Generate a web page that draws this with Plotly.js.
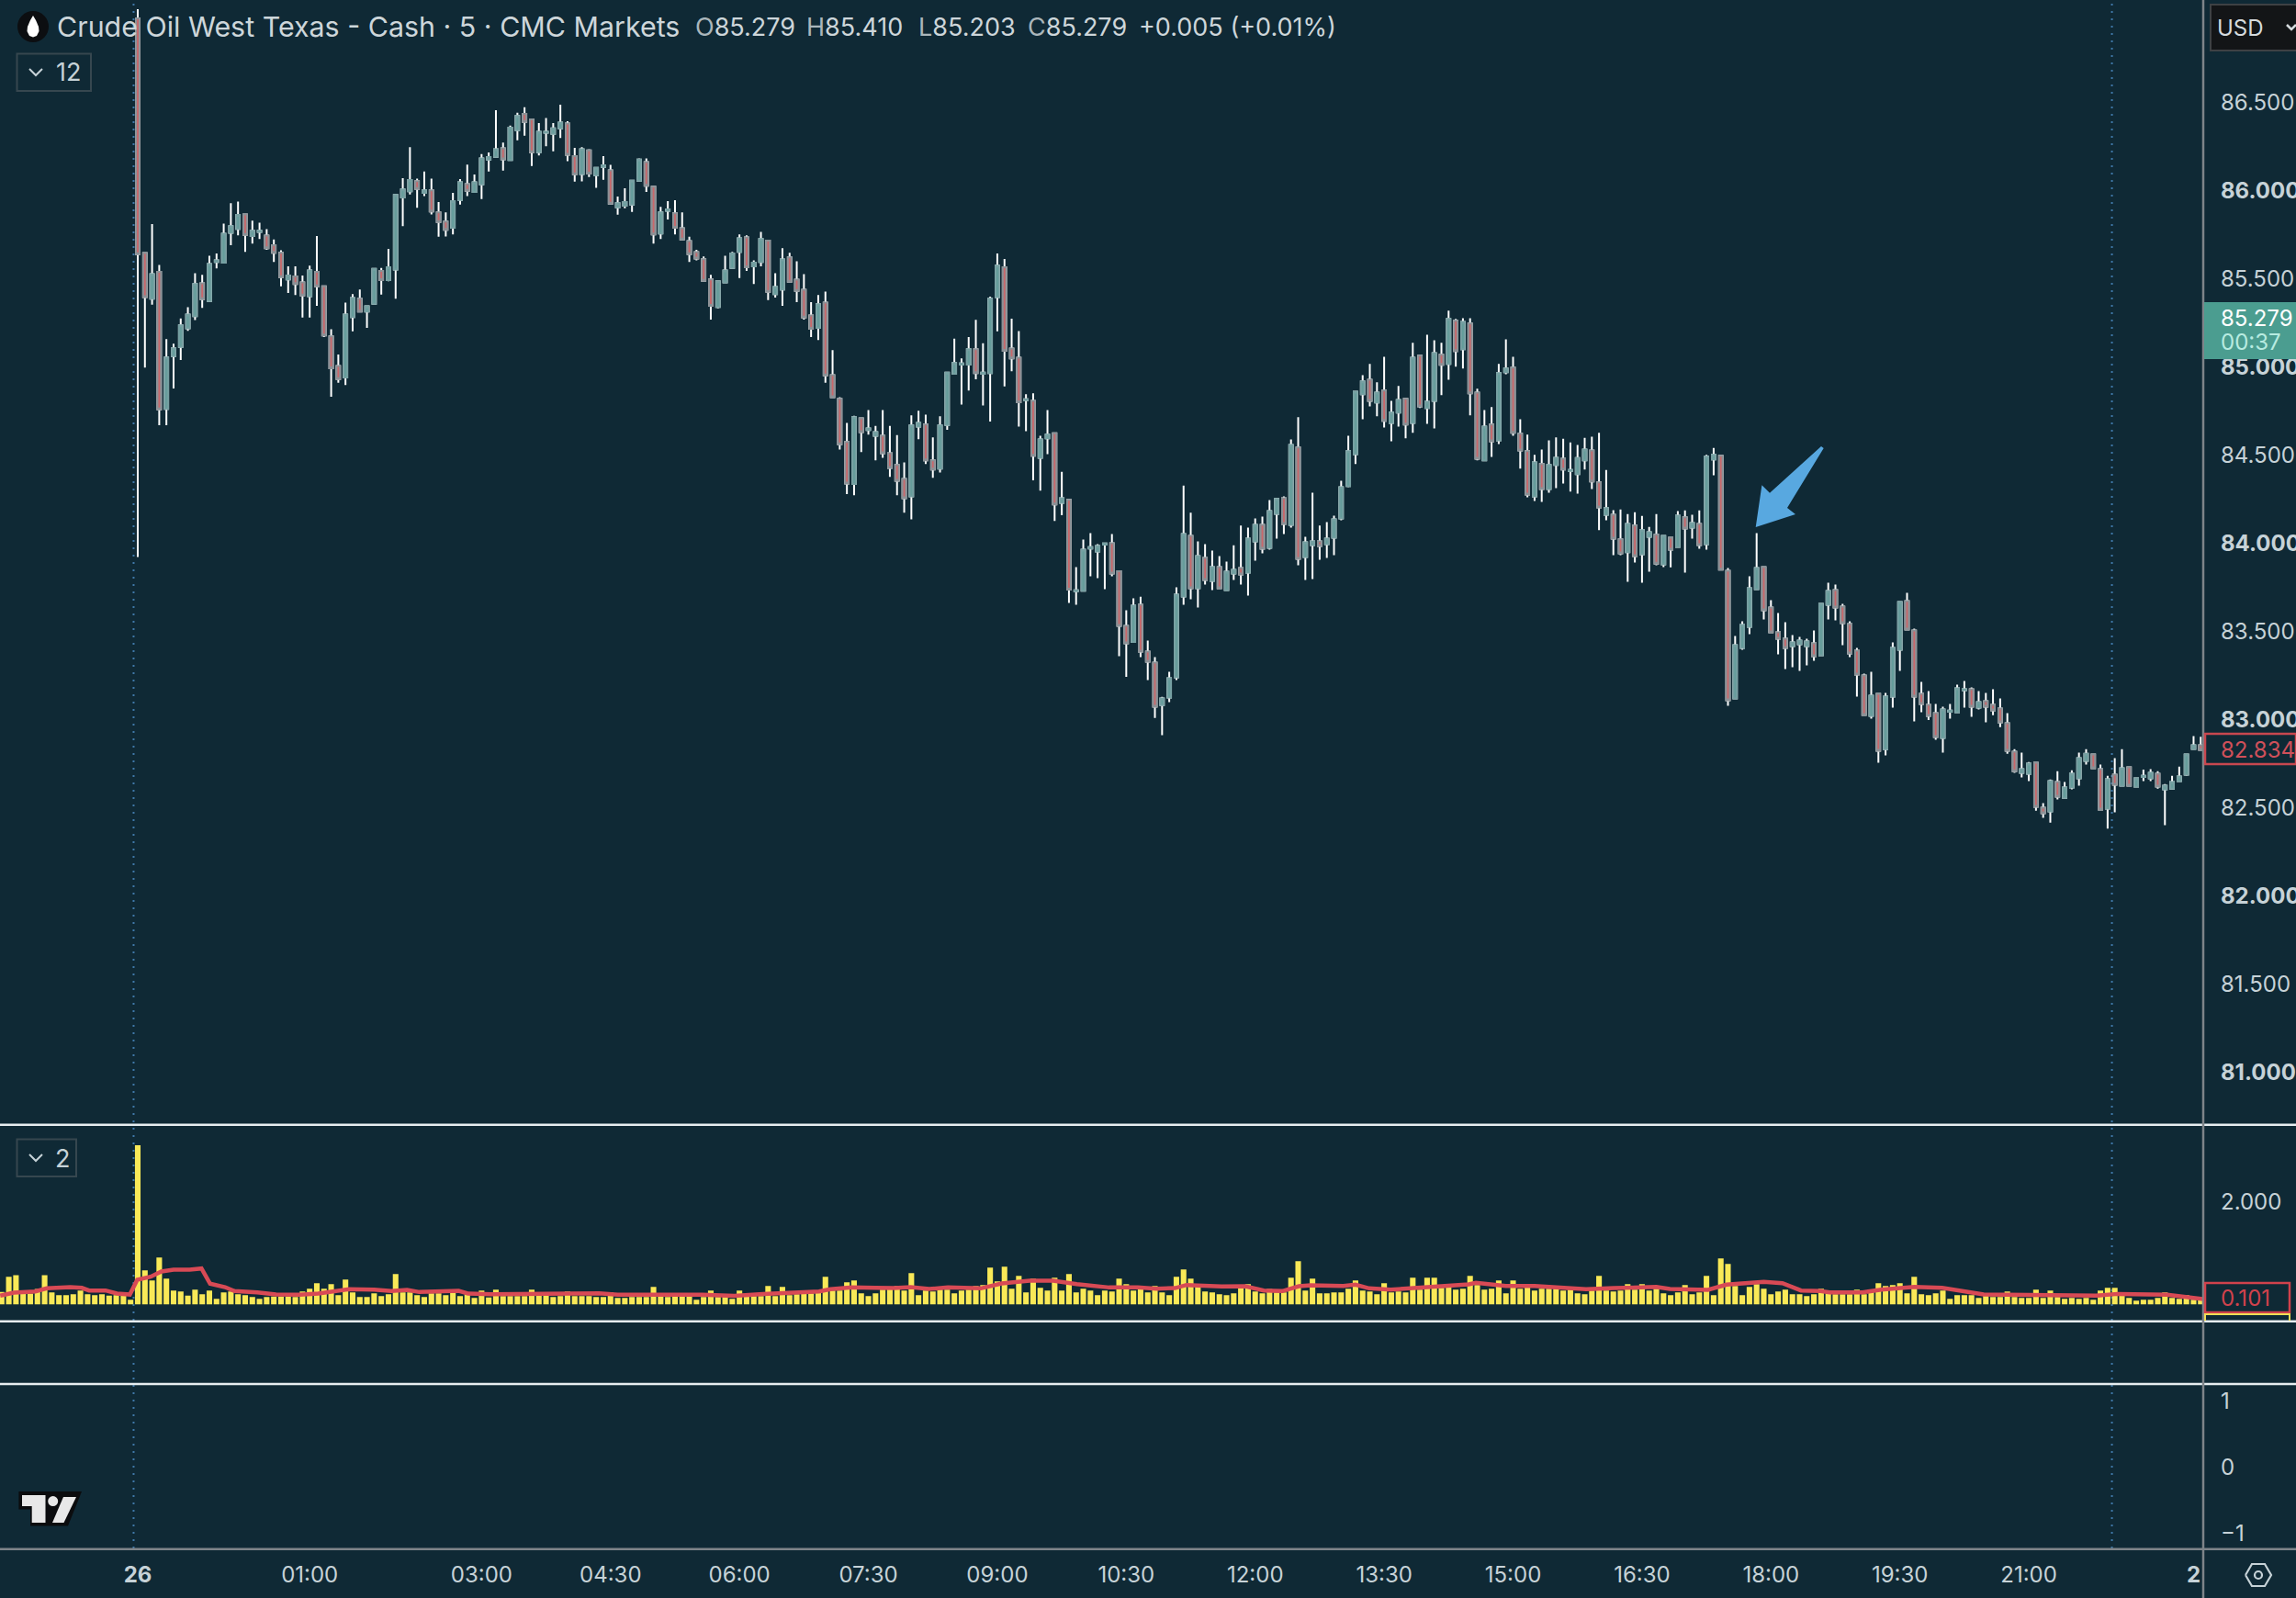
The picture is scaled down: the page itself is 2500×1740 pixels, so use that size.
<!DOCTYPE html>
<html>
<head>
<meta charset="utf-8">
<script src="https://cdn.plot.ly/plotly-3.0.1.min.js"></script>
<style>html,body{margin:0;padding:0;background:#0f2935}#chart{width:2500px;height:1740px}</style>
</head>
<body>
<div id="chart"></div>
<script>
const opens = [86.975,85.644,85.385,85.537,84.760,85.059,85.111,85.217,85.286,85.472,85.372,85.594,85.590,85.759,85.781,85.863,85.740,85.764,85.743,85.688,
85.646,85.495,85.511,85.477,85.399,85.537,85.455,85.172,85.003,84.939,85.281,85.385,85.312,85.356,85.542,85.490,85.550,85.959,85.995,86.052,
85.985,85.999,85.875,85.823,85.788,85.945,86.035,85.990,86.033,86.174,86.190,86.238,86.171,86.341,86.433,86.402,86.216,86.327,86.320,86.351,
86.379,86.193,86.092,86.226,86.085,86.132,86.113,85.903,85.912,85.919,86.054,86.160,86.021,85.755,85.884,85.870,85.785,85.712,85.649,85.609,
85.495,85.338,85.477,85.559,85.651,85.733,85.568,85.594,85.714,85.411,85.437,85.620,85.493,85.436,85.290,85.220,85.363,84.951,84.817,84.572,
84.334,84.707,84.640,84.608,84.608,84.509,84.442,84.363,84.264,84.660,84.671,84.468,84.421,84.669,84.959,85.011,85.011,85.098,84.959,84.963,
85.394,85.563,85.103,85.051,84.810,84.806,84.483,84.593,84.622,84.228,84.244,83.726,83.729,83.969,83.952,83.990,83.999,83.840,83.530,83.438,
83.649,83.384,83.321,83.081,83.123,83.238,83.696,84.040,83.743,83.915,83.785,83.863,83.733,83.827,83.858,83.832,84.009,84.103,83.972,84.165,
84.254,84.103,84.541,83.920,83.988,84.009,83.993,84.030,84.139,84.322,84.504,84.843,84.926,84.796,84.864,84.681,84.739,84.817,84.681,85.062,
84.765,84.806,85.067,85.015,85.260,85.098,85.244,84.853,84.468,84.671,84.582,84.968,84.994,84.619,84.520,84.264,84.447,84.306,84.442,84.478,
84.409,84.390,84.468,84.525,84.343,84.160,84.160,84.020,83.947,84.098,83.936,84.035,84.046,83.879,84.030,83.978,84.145,84.087,84.108,83.993,
84.473,84.494,83.842,83.118,83.405,83.524,83.738,83.863,83.634,83.493,83.457,83.415,83.426,83.415,83.431,83.363,83.650,83.733,83.639,83.540,
83.389,83.248,83.019,83.144,82.831,83.128,83.394,83.670,83.504,83.144,83.082,83.035,82.894,83.042,83.040,83.165,83.170,83.066,83.102,83.082,
83.061,82.977,82.816,82.696,82.691,82.753,82.498,82.477,82.644,82.555,82.613,82.665,82.764,82.800,82.717,82.493,82.686,82.623,82.727,82.618,
82.673,82.665,82.691,82.602,82.607,82.649,82.686,82.832,82.852];

const highs = [87.027,85.650,85.808,85.577,85.156,85.130,85.273,85.337,85.530,85.521,85.629,85.641,85.811,85.927,85.936,85.868,85.828,85.816,85.780,85.721,
85.660,85.568,85.568,85.516,85.573,85.740,85.455,85.212,85.068,85.363,85.411,85.437,85.342,85.554,85.559,85.667,85.973,86.068,86.245,86.066,
86.106,86.066,85.933,85.875,85.985,86.063,86.146,86.089,86.205,86.214,86.454,86.271,86.367,86.440,86.471,86.405,86.381,86.410,86.381,86.485,
86.391,86.240,86.245,86.233,86.132,86.193,86.144,85.964,86.011,86.054,86.181,86.181,86.021,85.906,85.938,85.943,85.875,85.736,85.663,85.625,
85.521,85.484,85.629,85.651,85.750,85.745,85.603,85.764,85.714,85.530,85.672,85.646,85.597,85.524,85.365,85.406,85.425,85.094,84.826,84.681,
84.721,84.707,84.754,84.664,84.754,84.664,84.612,84.457,84.723,84.749,84.728,84.598,84.718,84.966,85.159,85.046,85.168,85.265,85.133,85.397,
85.641,85.610,85.272,85.202,84.843,84.848,84.608,84.754,84.622,84.403,84.244,83.863,84.019,84.056,83.993,83.997,84.051,83.840,83.618,83.686,
83.695,83.446,83.352,83.127,83.269,83.748,84.325,84.171,84.009,83.993,83.957,83.926,83.894,83.986,84.098,84.087,84.139,84.150,84.243,84.249,
84.264,84.587,84.713,84.035,84.285,84.098,84.118,84.155,84.353,84.608,84.858,84.952,85.015,84.911,85.056,84.806,84.890,84.817,85.135,85.062,
85.181,85.150,85.135,85.317,85.270,85.275,85.275,84.874,84.754,84.770,85.015,85.155,85.056,84.702,84.614,84.499,84.530,84.582,84.598,84.591,
84.570,84.556,84.596,84.603,84.624,84.414,84.186,84.190,84.164,84.174,84.153,84.091,84.164,84.040,84.030,84.181,84.185,84.160,84.185,84.499,
84.539,84.494,83.858,83.472,83.556,83.811,84.056,83.863,83.676,83.603,83.551,83.478,83.467,83.457,83.504,83.655,83.775,83.764,83.655,83.556,
83.405,83.259,83.269,83.149,83.149,83.436,83.670,83.717,83.514,83.212,83.160,83.087,83.071,83.087,83.196,83.217,83.181,83.160,83.149,83.170,
83.118,83.035,82.831,82.811,82.758,82.753,82.524,82.659,82.706,82.644,82.711,82.811,82.831,82.800,82.743,82.680,82.779,82.831,82.732,82.665,
82.715,82.717,82.706,82.633,82.680,82.732,82.800,82.904,82.901];

const lows = [83.920,84.995,85.351,84.668,84.668,84.876,85.038,85.203,85.264,85.333,85.372,85.557,85.590,85.689,85.745,85.651,85.698,85.724,85.662,85.594,
85.455,85.417,85.406,85.278,85.278,85.345,85.168,84.829,84.908,84.896,85.200,85.311,85.220,85.356,85.408,85.484,85.385,85.797,85.976,85.901,
85.967,85.863,85.736,85.738,85.750,85.919,85.967,85.985,85.950,86.106,86.190,86.112,86.167,86.283,86.310,86.138,86.198,86.250,86.221,86.297,
86.165,86.049,86.051,86.075,86.014,86.059,85.924,85.861,85.898,85.877,86.054,85.990,85.698,85.724,85.834,85.750,85.721,85.594,85.603,85.486,
85.267,85.330,85.472,85.559,85.502,85.542,85.469,85.568,85.377,85.391,85.345,85.476,85.365,85.267,85.168,85.151,84.908,84.826,84.530,84.277,
84.271,84.515,84.614,84.468,84.483,84.374,84.270,84.171,84.134,84.588,84.447,84.369,84.400,84.641,84.959,84.785,84.864,84.928,84.780,84.688,
85.200,84.887,84.973,84.660,84.634,84.355,84.296,84.504,84.125,84.157,83.660,83.650,83.729,83.811,83.801,83.738,83.811,83.358,83.240,83.438,
83.352,83.222,83.008,82.910,83.097,83.222,83.650,83.681,83.634,83.764,83.733,83.738,83.728,83.790,83.764,83.702,83.900,83.941,83.962,84.025,
84.051,84.087,83.874,83.790,83.795,83.905,83.915,83.931,84.129,84.316,84.447,84.702,84.775,84.718,84.655,84.577,84.660,84.593,84.624,84.765,
84.676,84.650,84.838,84.926,85.000,84.989,84.723,84.468,84.468,84.488,84.561,84.957,84.608,84.421,84.259,84.238,84.233,84.285,84.311,84.337,
84.291,84.280,84.416,84.306,84.072,84.129,83.931,83.931,83.780,83.889,83.775,83.837,83.874,83.863,83.861,83.973,83.832,84.025,83.967,83.962,
84.384,83.848,83.076,83.113,83.394,83.483,83.738,83.566,83.493,83.368,83.285,83.295,83.274,83.306,83.332,83.358,83.566,83.561,83.420,83.353,
83.128,83.024,83.003,82.753,82.795,83.066,83.274,83.509,82.988,83.040,82.996,82.884,82.811,83.003,83.035,83.066,83.014,83.056,82.983,83.023,
82.956,82.805,82.696,82.670,82.649,82.482,82.441,82.414,82.545,82.550,82.602,82.623,82.743,82.717,82.488,82.380,82.472,82.623,82.618,82.618,
82.649,82.649,82.607,82.399,82.602,82.644,82.680,82.826,82.823];

const closes = [85.637,85.394,85.524,84.757,85.052,85.104,85.234,85.295,85.469,85.382,85.582,85.602,85.754,85.797,85.860,85.747,85.771,85.771,85.672,85.646,
85.507,85.516,85.469,85.403,85.545,85.455,85.177,84.991,84.929,85.295,85.389,85.312,85.342,85.554,85.490,85.563,85.973,86.005,86.058,86.007,
85.999,85.880,85.820,85.776,85.938,86.045,85.997,86.045,86.181,86.188,86.233,86.176,86.355,86.422,86.388,86.216,86.332,86.332,86.351,86.384,
86.202,86.091,86.233,86.094,86.127,86.141,85.924,85.927,85.933,86.054,86.174,86.025,85.750,85.875,85.891,85.788,85.721,85.637,85.613,85.486,
85.345,85.484,85.545,85.641,85.728,85.564,85.589,85.724,85.424,85.451,85.608,85.481,85.429,85.278,85.215,85.354,84.950,84.826,84.560,84.337,
84.713,84.629,84.650,84.629,84.509,84.426,84.353,84.254,84.666,84.681,84.468,84.416,84.666,84.966,85.020,85.018,85.098,84.963,84.966,85.385,
85.573,85.090,85.046,84.798,84.815,84.495,84.587,84.614,84.219,84.254,83.735,83.731,83.962,83.976,83.983,83.997,83.827,83.530,83.431,83.644,
83.384,83.326,83.071,83.118,83.233,83.707,84.051,83.743,83.926,83.790,83.863,83.743,83.837,83.847,83.821,84.025,84.103,83.967,84.181,84.249,
84.108,84.556,83.910,84.004,84.009,83.983,84.025,84.134,84.316,84.520,84.858,84.916,84.806,84.853,84.692,84.739,84.811,84.671,85.051,84.775,
84.801,85.077,85.010,85.270,85.088,85.254,84.848,84.478,84.660,84.577,84.963,84.989,84.624,84.525,84.275,84.457,84.306,84.442,84.483,84.416,
84.414,84.482,84.530,84.348,84.202,84.197,84.025,83.941,84.108,83.926,84.072,84.061,83.882,84.040,83.962,84.155,84.082,84.113,83.988,84.489,
84.499,83.848,83.108,83.420,83.535,83.743,83.858,83.618,83.493,83.457,83.405,83.436,83.446,83.441,83.358,83.655,83.728,83.634,83.545,83.373,
83.254,83.024,83.134,82.821,83.128,83.405,83.665,83.509,83.128,83.087,83.019,82.899,83.056,83.049,83.175,83.170,83.071,83.097,83.071,83.050,
82.983,82.821,82.706,82.717,82.748,82.503,82.467,82.649,82.561,82.613,82.691,82.779,82.805,82.722,82.488,82.660,82.628,82.722,82.623,82.665,
82.680,82.696,82.618,82.623,82.644,82.675,82.800,82.852,82.826];

const volumes = [.238,.536,.565,.208,.208,.298,.565,.232,.179,.179,.196,.268,.196,.179,.196,.167,.179,.167,.089,
3.09,.661,.464,.911,.5,.268,.25,.167,.286,.196,.268,.107,.232,.25,.196,.179,.143,.107,.143,.149,.149,.149,.143,.25,.304,.411,.304,.393,.179,.482,.232,.143,.143,.214,.161,.196,.589,.232,.232,.179,.143,.214,.214,.179,.232,.161,.196,.125,.268,.131,.286,.161,.161,.161,.161,.286,.179,.179,.143,.161,.25,.161,.161,.161,.143,.143,.232,.125,.125,.143,.143,.143,.339,.161,.143,.161,.161,.161,.089,.143,.268,.143,.143,.107,
.268,.161,.161,.161,.357,.161,.339,.179,.196,.214,.214,.232,.536,.268,.268,.429,.464,.214,.161,.214,.286,.304,.357,.268,.607,.179,.268,.25,.286,.286,.214,.268,.286,.357,.375,.714,.446,.732,.304,.554,.232,.5,.321,.268,.518,.268,.589,.232,.304,.268,.179,.268,.25,.5,.393,.268,.357,.232,.357,.232,.179,.536,.679,.5,.357,.25,.232,.196,.179,.214,.357,.393,.25,.214,.298,.232,.232,.518,.839,.268,.5,.214,.214,.232,.232,.304,.464,.268,.25,.196,.411,.232,.25,.232,.518,.286,.518,.518,.321,.339,.286,.304,.554,
.375,.286,.304,.464,.214,.464,.304,.339,.268,.304,.304,.304,.268,.286,.214,.196,.268,.554,.268,.25,.268,.393,.286,.393,.268,.304,.214,.179,.232,.375,.196,.232,.554,.179,.893,.786,.357,.179,.339,.393,.304,.196,.25,.286,.196,.196,.161,.196,.304,.214,.196,.196,.196,.286,.196,.286,.411,.357,.375,.411,.214,.536,.196,.179,.214,.268,.107,.179,.179,.179,.125,.196,.143,.143,.25,.143,.125,.125,.286,.125,.268,.143,.107,.125,.107,.125,.089,.268,.321,.321,.196,.125,.071,.089,.089,.125,.232,.125,.107,.179,.089,.089];
const preOpenBars = 19;

const maBars = [-19.2,-17.3,-14.3,-12.7,-9.4,-7.8,-6.8,-4.5,-2.9,-1.1,-0.07,1.8,3.3,5,7.25,8.9,10.1,12.2,13.5,16.7,19.3,22.6,25.2,27.8,29.5,33,35.4,37.6,39.3,44.8,46.1,49.4,55,64.4,67,70.3,71.6,78.8,83.3,87.3,91.8,95.1,96.7,99.7,103,105.6,107.9,110.5,113.1,117.7,120.6,124.5,127.8,131.1,135.6,139.6,142.2,144.8,146.4,151.3,154.6,157.2,159.8,162.1,163.7,168.3,170,171.9,174.9,177.5,181.4,185.8,186.8,189.7,191,195,202.2,206.1,212,213.9,219.2,221.8,227,229.6,232.2,234.9,236.2,240.8,243.4,248,251.9,257.7,264.3,273.4,276.4,281.9,283.3,288.4];
const maValues = [.167,.226,.25,.31,.333,.32,.268,.268,.208,.19,.476,.536,.637,.673,.673,.696,.4,.333,.256,.232,.19,.185,.208,.256,.292,.286,.256,.28,.238,.262,.208,.196,.2,.214,.185,.179,.185,.185,.165,.2,.238,.25,.292,.327,.32,.315,.333,.298,.327,.31,.405,.458,.458,.393,.327,.327,.304,.315,.375,.345,.351,.268,.256,.351,.369,.357,.381,.31,.286,.31,.345,.387,.417,.387,.357,.357,.292,.315,.339,.298,.28,.381,.435,.41,.268,.256,.232,.232,.286,.339,.321,.19,.179,.167,.202,.179,.185,.101];

const priceTicks = [86.5,86,85.5,85,84.5,84,83.5,83,82.5,82,81.5,81];
const priceLabels = ["86.500","<b>86.000</b>","85.500","<b>85.000</b>","84.500","<b>84.000</b>","83.500","<b>83.000</b>","82.500","<b>82.000</b>","81.500","<b>81.000</b>"];
const timeTicks = [0,24,48,66,84,102,120,138,156,174,192,210,228,246,264,287];
const timeLabels = ["<b>26</b>","01:00","03:00","04:30","06:00","07:30","09:00","10:30","12:00","13:30","15:00","16:30","18:00","19:30","21:00","<b>2</b>"];
const sessionBreaks = [-0.58,275.6];

const W = 2500, H = 1740;
const px = x => x / W, py = y => 1 - y / H;
const pathOf = pts => pts.map((p, k) => (k ? 'L' : 'M') + px(p[0]) + ',' + py(p[1])).join(' ') + ' Z';
const openPath = pts => pts.map((p, k) => (k ? 'L' : 'M') + px(p[0]) + ',' + py(p[1])).join(' ');
const rect = (x0, y0, x1, y1, fill, line, lw) => ({type:'rect',xref:'paper',yref:'paper',x0:px(x0),x1:px(x1),y0:py(y0),y1:py(y1),fillcolor:fill,line:{color:line||fill,width:lw===undefined?0:lw},layer:'above'});
const poly = (pts, fill) => ({type:'path',xref:'paper',yref:'paper',path:pathOf(pts),fillcolor:fill,line:{color:fill,width:0},layer:'above'});
const stroke = (pts, color, lw) => ({type:'path',xref:'paper',yref:'paper',path:openPath(pts),line:{color,width:lw},layer:'above'});
const hline = (y, color, lw, x1) => ({type:'line',xref:'paper',yref:'paper',x0:0,x1:px(x1||W),y0:py(y),y1:py(y),line:{color,width:lw},layer:'above'});
const circle = (cx, cy, r, fill) => ({type:'circle',xref:'paper',yref:'paper',x0:px(cx-r),x1:px(cx+r),y0:py(cy-r),y1:py(cy+r),fillcolor:fill,line:{color:fill,width:0},layer:'above'});
const label = (x, y, text, size, color, anchor) => ({xref:'paper',yref:'paper',x:px(x),y:py(y),text,showarrow:false,xanchor:anchor||'left',yanchor:'middle',align:'left',borderpad:0,font:{family:'Inter, Roboto, sans-serif',size,color}});

const idx = opens.map((_, k) => k);
const barIdx = volumes.map((_, k) => k - preOpenBars);
const bodyHi = opens.map((o, k) => Math.max(o, closes[k]));
const bodyLo = opens.map((o, k) => Math.min(o, closes[k]));

const traces = [
  {type:'candlestick',x:idx,open:opens,high:highs,low:lows,close:closes,xaxis:'x',yaxis:'y',whiskerwidth:0,
   increasing:{line:{color:'#ffffff',width:2},fillcolor:'#ffffff'},decreasing:{line:{color:'#ffffff',width:2},fillcolor:'#ffffff'},hoverinfo:'skip',showlegend:false},
  {type:'candlestick',x:idx,open:opens,high:bodyHi,low:bodyLo,close:closes,xaxis:'x',yaxis:'y',whiskerwidth:0,
   increasing:{line:{color:'#76a0a2',width:2},fillcolor:'#659d9b'},decreasing:{line:{color:'#8c9196',width:2},fillcolor:'#c9686b'},hoverinfo:'skip',showlegend:false},
  {type:'bar',x:barIdx,y:volumes,width:0.78,marker:{color:'#f9e957',line:{width:0}},xaxis:'x',yaxis:'y2',hoverinfo:'skip',showlegend:false},
  {type:'scatter',mode:'lines',x:maBars,y:maValues,line:{color:'#d84a55',width:4.5},xaxis:'x',yaxis:'y2',hoverinfo:'skip',showlegend:false},
  {type:'scatter',mode:'lines',x:[null],y:[null],xaxis:'x',yaxis:'y3',hoverinfo:'skip',showlegend:false}
];

const tickFont = {family:'Inter, Roboto, sans-serif',size:24,color:'#c6d2d7'};
const yBase = {side:'right',anchor:'x',showgrid:false,zeroline:false,showline:false,ticks:'',ticklabelstandoff:18,tickfont:tickFont,tickmode:'array',fixedrange:true};

const bg = '#0f2935';
const shapes = [];
sessionBreaks.forEach(b => shapes.push({type:'line',xref:'x',yref:'paper',x0:b,x1:b,y0:py(1686),y1:1,line:{color:'#3f78a8',width:2,dash:'2px,6px'},layer:'below'}));
shapes.push(
  hline(1224.8,'#e6edf0',2.5), hline(1438.7,'#e6edf0',2.5), hline(1507,'#e6edf0',2.5), hline(1686.7,'#7e8489',2.5),
  {type:'line',xref:'paper',yref:'paper',x0:px(2399),x1:px(2399),y0:0,y1:1,line:{color:'#7e8489',width:2.5},layer:'above'},
  // symbol badge
  circle(36,29,17,'#0c0e11'),
  poly([[36,17],[39,22],[42,29],[42.5,34],[40,39],[36,40.5],[32,39],[29.5,34],[30,29],[33,22]],'#ffffff'),
  // collapse boxes
  rect(18.5,58.5,99,99,'rgba(0,0,0,0)','#36474f',2),
  stroke([[32,75],[39,82],[46,75]],'#c6d2d7',2),
  rect(18.5,1240.5,83,1281,'rgba(0,0,0,0)','#36474f',2),
  stroke([[32,1257],[39,1264],[46,1257]],'#c6d2d7',2),
  // USD button
  rect(2407,5,2510,55,'#131517','#3e4144',2),
  stroke([[2490,27],[2495,32],[2500,27]],'#d5dbde',2.5),
  // last price tags
  rect(2400,329,2500,391,'#4b9d90'),
  rect(2401,799,2500,832,bg,'#c8474f',2.5),
  rect(2401,1397,2493,1429,bg,'#d0424c',2.5),
  stroke([[2401,1438],[2401,1431],[2493,1431],[2493,1438]],'#f0dd55',2),
  // arrow
  poly([[1911.7,574],[1918.4,528.3],[1927,536.7],[1983,486],[1985.7,488],[1946,553],[1955,560]],'#58a8e0'),
  // TradingView mark
  poly([[20.4,1624],[89,1624],[74,1661.5],[33,1661.5],[33,1643.5],[20.4,1643.5]],'#0b0c0e'),
  poly([[24,1628],[49.5,1628],[49.5,1658],[34.7,1658],[34.7,1640],[24,1640]],'#e8e8e8'),
  circle(57.7,1634.6,5.5,'#e8e8e8'),
  poly([[69,1630],[83,1630],[69.5,1658],[57,1658]],'#e8e8e8'),
  // settings gear
  stroke([[2445,1715],[2452,1703],[2466,1703],[2473,1715],[2466,1727],[2452,1727],[2445,1715]],'#c6d2d7',2.2),
  {type:'circle',xref:'paper',yref:'paper',x0:px(2455),x1:px(2463),y0:py(1711),y1:py(1719),line:{color:'#c6d2d7',width:2.2},layer:'above'}
);

const headColor = '#cdd6da';
const annotations = [
  label(61,29,'Crude Oil West Texas - Cash · 5 · CMC Markets',30.4,headColor),
  label(756,29,'<span style="color:#aab6bb">O</span>85.279',27,headColor),
  label(877,29,'<span style="color:#aab6bb">H</span>85.410',27,headColor),
  label(999,29,'<span style="color:#aab6bb">L</span>85.203',27,headColor),
  label(1118,29,'<span style="color:#aab6bb">C</span>85.279',27,headColor),
  label(1239,29,'+0.005 (+0.01%)',27,headColor),
  label(60,79,'12',27,'#c6d2d7'),
  label(59,1261,'2',27,'#c6d2d7'),
  label(2413,30,'USD',24,'#d5dbde'),
  label(2417,346,'85.279',24,'#ffffff'),
  label(2417,373,'00:37',24,'#b7ebe0'),
  label(2417,816,'82.834',24,'#d0505a'),
  label(2417,1413,'0.101',24,'#d0424c')
];

const layout = {
  width:W,height:H,paper_bgcolor:bg,plot_bgcolor:bg,margin:{l:0,r:0,t:0,b:0,autoexpand:false},showlegend:false,boxgap:0.3,hovermode:false,
  xaxis:{domain:[0,2399/2500],range:[-19.23,288.35],anchor:'y3',showgrid:false,zeroline:false,showline:false,ticks:'',tickmode:'array',tickvals:timeTicks,ticktext:timeLabels,tickfont:tickFont,ticklabelstandoff:11,rangeslider:{visible:false},fixedrange:true},
  yaxis:Object.assign({},yBase,{domain:[py(1224.8),1],range:[80.7,87.079],tickvals:priceTicks,ticktext:priceLabels}),
  yaxis2:Object.assign({},yBase,{domain:[py(1438.7),py(1224.8)],range:[-0.33,3.486],tickvals:[2],ticktext:['2.000']}),
  yaxis3:Object.assign({},yBase,{domain:[py(1686.7),py(1507)],range:[-1.239,1.257],tickvals:[1,0,-1],ticktext:['1','0','\u22121']}),
  shapes,annotations
};
Plotly.newPlot('chart',traces,layout,{staticPlot:true,displayModeBar:false});
</script>
</body>
</html>
